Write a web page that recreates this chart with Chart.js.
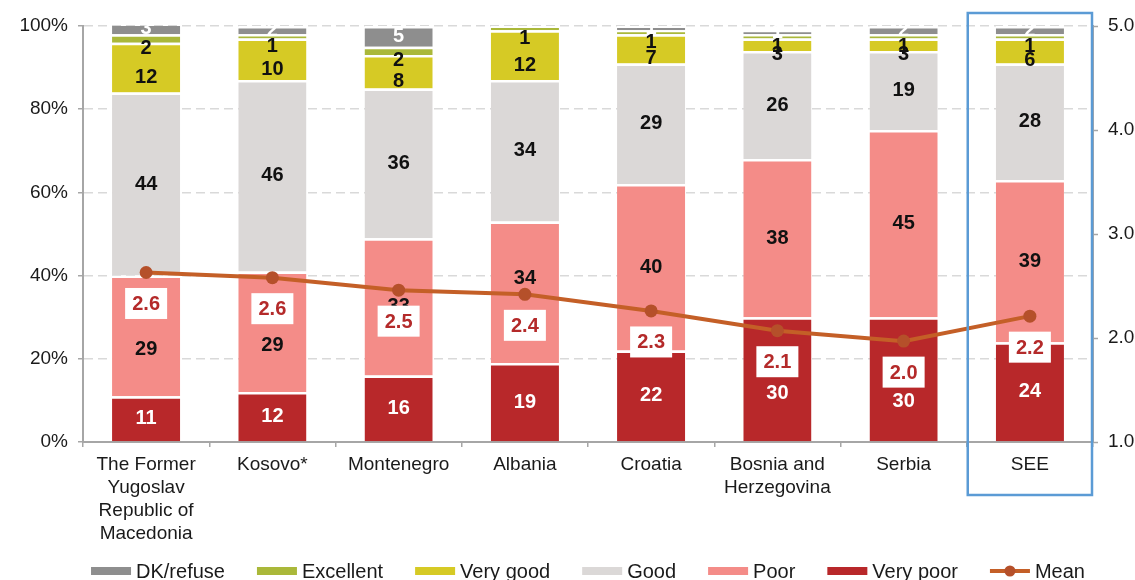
<!DOCTYPE html>
<html>
<head>
<meta charset="utf-8">
<script src="https://cdn.jsdelivr.net/npm/chart.js@4.4.1/dist/chart.umd.min.js"></script>
<style>
    html, body { margin: 0; padding: 0; background: #fff; }
    #chart { display: block; }
</style>
</head>
<body>
<canvas id="chart" width="1135" height="580"></canvas>
<script>
// Categories (multi-line labels as arrays)
const categories = [
    ['The Former', 'Yugoslav', 'Republic of', 'Macedonia'],
    'Kosovo*', 'Montenegro', 'Albania', 'Croatia',
    ['Bosnia and', 'Herzegovina'], 'Serbia', 'SEE'
];

// Shares in %, bottom to top of each bar
const veryPoor  = [11, 12, 16, 19, 22, 30, 30, 24];
const poor      = [29, 29, 33, 34, 40, 38, 45, 39];
const good      = [44, 46, 36, 34, 29, 26, 19, 28];
const veryGood  = [12, 10,  8, 12,  7,  3,  3,  6];
const excellent = [ 2,  1,  2,  1,  1,  1,  1,  1];
const dkRefuse  = [ 3,  2,  5,  0,  1,  1,  2,  2];

// Mean score (right axis, 1-5)
const meanScore = [2.63, 2.58, 2.46, 2.42, 2.26, 2.07, 1.97, 2.21];

// Tick labels
const pctTicks = [0, 20, 40, 60, 80, 100];
const meanTicks = [1, 2, 3, 4, 5];

const FONT = "'Liberation Sans', Arial, sans-serif";
const TEXT = '#1a1a1a';
const AXIS = '#a6a6a6';

function barSet(label, data, color, labelColor, labelShift) {
    return {
        label: label,
        data: data,
        backgroundColor: color,
        borderColor: '#ffffff',
        borderWidth: { top: 2.5, right: 0, bottom: 0, left: 0 },
        borderSkipped: false,
        yAxisID: 'y',
        order: 1,
        labelColor: labelColor,
        labelShift: labelShift || 0
    };
}

// Labels inside the bars + mean boxes
const valueLabels = {
    id: 'valueLabels',
    afterDatasetsDraw(chart) {
        const c = chart.ctx;
        const lineMeta = chart.getDatasetMeta(0);
        const boxW = 42, boxH = 31, boxOff = 31;
        const boxes = lineMeta.data.map(p => ({ x: p.x, cy: p.y + boxOff }));

        c.save();
        c.font = 'bold 20px ' + FONT;
        c.textAlign = 'center';
        c.textBaseline = 'middle';
        chart.data.datasets.forEach((ds, di) => {
            if (ds.type === 'line') return;
            const meta = chart.getDatasetMeta(di);
            meta.data.forEach((el, i) => {
                const v = ds.data[i];
                if (!v) return;
                let y = (el.y + el.base) / 2 + ds.labelShift;
                // nudge labels that sit right next to the mean box
                const b = boxes[i];
                const top = b.cy - boxH / 2, bottom = b.cy + boxH / 2;
                if (y > b.cy && y - bottom < 20) {
                    y = Math.max(y + 14, bottom + 14);
                } else if (y < b.cy && top - y > 4 && top - y < 20) {
                    y = Math.min(y - 14, top - 14);
                }
                c.fillStyle = ds.labelColor;
                c.fillText(String(v), el.x, y);
            });
        });

        // mean value boxes
        boxes.forEach((b, i) => {
            c.fillStyle = '#ffffff';
            c.fillRect(b.x - boxW / 2, b.cy - boxH / 2, boxW, boxH);
            c.fillStyle = '#b42a2a';
            c.fillText(meanScore[i].toFixed(1), b.x, b.cy + 1);
        });
        c.restore();
    }
};

// Blue frame around SEE + legend
const extras = {
    id: 'extras',
    afterDraw(chart) {
        const c = chart.ctx;
        const area = chart.chartArea;
        const xs = chart.scales.x;
        const step = (area.right - area.left) / categories.length;
        const cx = xs.getPixelForValue(categories.length - 1);

        c.save();
        c.strokeStyle = '#5b9bd5';
        c.lineWidth = 2.5;
        c.strokeRect(cx - step / 2 + 1, area.top - 13, step - 2, area.bottom - area.top + 66);

        // legend
        const items = chart.data.datasets.filter(d => d.type !== 'line').reverse();
        items.push(chart.data.datasets[0]);
        c.font = '20px ' + FONT;
        c.textBaseline = 'middle';
        c.textAlign = 'left';
        const mw = 40, gap = 5, spacing = 32;
        let total = 0;
        items.forEach((d, k) => {
            total += mw + gap + c.measureText(d.label).width + (k ? spacing : 0);
        });
        let x = (area.left + area.right) / 2 - total / 2;
        const y = 571;
        items.forEach(d => {
            if (d.type === 'line') {
                c.strokeStyle = d.borderColor;
                c.lineWidth = 4;
                c.beginPath();
                c.moveTo(x, y);
                c.lineTo(x + mw, y);
                c.stroke();
                c.fillStyle = d.pointBackgroundColor;
                c.beginPath();
                c.arc(x + mw / 2, y, 5.5, 0, Math.PI * 2);
                c.fill();
            } else {
                c.fillStyle = d.backgroundColor;
                c.fillRect(x, y - 4, mw, 8);
            }
            c.fillStyle = TEXT;
            c.fillText(d.label, x + mw + gap, y + 1);
            x += mw + gap + c.measureText(d.label).width + spacing;
        });
        c.restore();
    }
};

const ctx = document.getElementById('chart').getContext('2d');
new Chart(ctx, {
    type: 'bar',
    data: {
        labels: categories,
        datasets: [
            {
                type: 'line',
                label: 'Mean',
                data: meanScore,
                yAxisID: 'y2',
                borderColor: '#c45f27',
                borderWidth: 4,
                pointRadius: 6.5,
                pointBackgroundColor: '#b5502a',
                pointBorderColor: '#b5502a',
                pointBorderWidth: 0,
                tension: 0,
                order: 0
            },
            barSet('Very poor', veryPoor, '#b8282a', '#ffffff'),
            barSet('Poor', poor, '#f48c88', '#111111'),
            barSet('Good', good, '#dbd8d7', '#111111'),
            barSet('Very good', veryGood, '#d6ca25', '#111111', 10),
            barSet('Excellent', excellent, '#aab83a', '#111111', 10),
            barSet('DK/refuse', dkRefuse, '#8e8e8e', '#ffffff')
        ]
    },
    options: {
        responsive: false,
        animation: false,
        devicePixelRatio: 1,
        layout: { padding: { top: 26, left: 0, right: 0, bottom: 0 } },
        plugins: {
            legend: { display: false },
            tooltip: { enabled: false }
        },
        datasets: {
            bar: { barPercentage: 0.54, categoryPercentage: 1 }
        },
        scales: {
            x: {
                stacked: true,
                grid: {
                    display: true,
                    drawOnChartArea: false,
                    offset: true,
                    tickLength: 5,
                    color: AXIS,
                    lineWidth: 1.5
                },
                border: { display: true, color: AXIS, width: 2 },
                ticks: {
                    color: TEXT,
                    font: { family: FONT, size: 19, lineHeight: 1.21 },
                    padding: 6,
                    maxRotation: 0,
                    autoSkip: false
                },
                afterFit(s) { s.height = 138; }
            },
            y: {
                stacked: true,
                position: 'left',
                min: 0,
                max: 100,
                afterBuildTicks(s) { s.ticks = pctTicks.map(v => ({ value: v })); },
                grid: {
                    color: c => (c.tick && c.tick.value === 0) ? 'rgba(0,0,0,0)' : '#d9d9d9',
                    lineWidth: 1.5,
                    tickLength: 5,
                    tickColor: AXIS,
                    tickBorderDash: [],
                    tickWidth: 1.5
                },
                border: { display: true, color: AXIS, width: 2, dash: [9, 5] },
                ticks: {
                    color: TEXT,
                    font: { family: FONT, size: 19 },
                    padding: 10,
                    callback: v => v + '%'
                },
                afterFit(s) { s.width = 83; }
            },
            y2: {
                position: 'right',
                min: 1,
                max: 5,
                afterBuildTicks(s) { s.ticks = meanTicks.map(v => ({ value: v })); },
                grid: {
                    display: true,
                    drawOnChartArea: false,
                    tickLength: 5,
                    tickColor: AXIS,
                    tickWidth: 1.5
                },
                border: { display: true, color: AXIS, width: 2 },
                ticks: {
                    color: TEXT,
                    font: { family: FONT, size: 19 },
                    padding: 10,
                    callback: v => Number(v).toFixed(1)
                },
                afterFit(s) { s.width = 42; }
            }
        }
    },
    plugins: [valueLabels, extras]
});
</script>
</body>
</html>
